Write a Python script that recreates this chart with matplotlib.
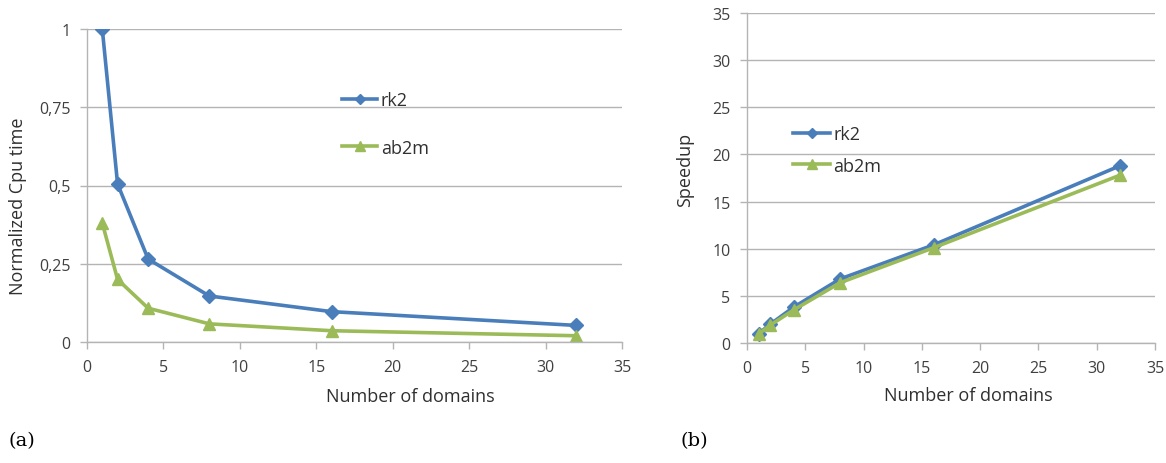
import matplotlib
matplotlib.use("Agg")
from matplotlib import pyplot as plt

domains = [1, 2, 4, 8, 16, 32]

# (a) normalized cpu time
cpu_rk2 = [1.0, 0.505, 0.265, 0.147, 0.097, 0.053]
cpu_ab2m = [0.38, 0.2, 0.108, 0.058, 0.036, 0.02]

# (b) speedup
speed_rk2 = [1.0, 2.0, 3.8, 6.8, 10.4, 18.8]
speed_ab2m = [0.95, 1.9, 3.5, 6.4, 10.1, 17.8]

x_ticks = [0, 5, 10, 15, 20, 25, 30, 35]
cpu_ticks = [0, 0.25, 0.5, 0.75, 1]
cpu_ticklabels = ["0", "0,25", "0,5", "0,75", "1"]
speed_ticks = [0, 5, 10, 15, 20, 25, 30, 35]

blue = "#4a7ebb"
green = "#9bbb59"
grid = "#b4b4b4"
txt = "#404040"

plt.rcParams["font.family"] = ["Open Sans", "DejaVu Sans"]

W, H = 1166, 464
fig = plt.figure(figsize=(W / 100, H / 100), dpi=100)


def px_axes(x0, x1, y_top, y_bot):
    return fig.add_axes([x0 / W, 1 - y_bot / H, (x1 - x0) / W, (y_bot - y_top) / H])


def style(ax):
    for s in ["top", "right"]:
        ax.spines[s].set_visible(False)
    for s in ["left", "bottom"]:
        ax.spines[s].set_color(grid)
        ax.spines[s].set_linewidth(1.0)
    ax.yaxis.grid(True, color=grid, linewidth=1.0)
    ax.set_axisbelow(True)
    ax.tick_params(colors=grid, labelcolor=txt, labelsize=11.5, length=5, width=1.0)
    ax.tick_params(axis="x", pad=7)
    ax.tick_params(axis="y", pad=7)


def px(x, y):
    return x / W, 1 - y / H


# panel (a)
ax1 = px_axes(87, 622, 30, 343)
ax1.plot(domains, cpu_rk2, color=blue, lw=2.6, marker="D", ms=7, label="rk2")
ax1.plot(domains, cpu_ab2m, color=green, lw=2.6, marker="^", ms=9, label="ab2m")
ax1.set_xlim(0, 35)
ax1.set_ylim(0, 1)
ax1.set_xticks(x_ticks)
ax1.set_yticks(cpu_ticks)
ax1.set_yticklabels(cpu_ticklabels)
style(ax1)
fig.text(*px(18, 206), "Normalized Cpu time", fontsize=13, color="#303030",
         rotation=90, ha="center", va="center")
fig.text(*px(410, 397), "Number of domains", fontsize=13, color="#303030",
         ha="center", va="center")
ax1.legend(loc="upper left", bbox_to_anchor=px(342, 92), bbox_transform=fig.transFigure,
           frameon=False, fontsize=13, handlelength=1.95, handletextpad=0.2,
           labelspacing=1.65, markerscale=0.75, labelcolor="#303030",
           borderpad=0, borderaxespad=0)

# panel (b)
ax2 = px_axes(747, 1155, 14, 344)
ax2.plot(domains, speed_rk2, color=blue, lw=2.6, marker="D", ms=7, label="rk2")
ax2.plot(domains, speed_ab2m, color=green, lw=2.6, marker="^", ms=9, label="ab2m")
ax2.set_xlim(0, 35)
ax2.set_ylim(0, 35)
ax2.set_xticks(x_ticks)
ax2.set_yticks(speed_ticks)
style(ax2)
fig.text(*px(685, 170), "Speedup", fontsize=13, color="#303030",
         rotation=90, ha="center", va="center")
fig.text(*px(968, 396), "Number of domains", fontsize=13, color="#303030",
         ha="center", va="center")
ax2.legend(loc="upper left", bbox_to_anchor=px(793, 126), bbox_transform=fig.transFigure,
           frameon=False, fontsize=13, handlelength=2.05, handletextpad=0.2,
           labelspacing=0.75, markerscale=0.75, labelcolor="#303030",
           borderpad=0, borderaxespad=0)

fig.text(*px(8, 441), "(a)", fontsize=14, family="DejaVu Serif", va="center")
fig.text(*px(680, 441), "(b)", fontsize=14, family="DejaVu Serif", va="center")

fig.savefig("out.png", dpi=100)
